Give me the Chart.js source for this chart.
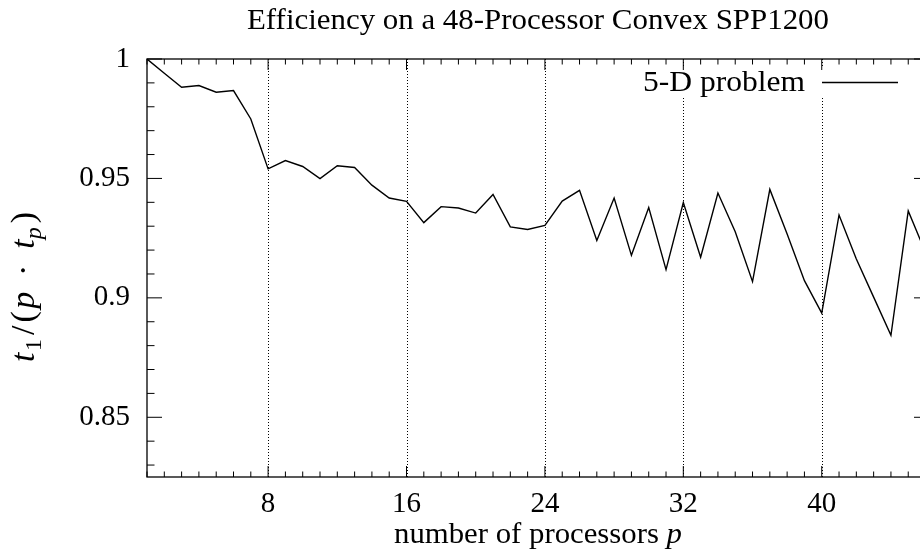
<!DOCTYPE html>
<html>
<head>
<meta charset="utf-8">
<script src="https://cdn.jsdelivr.net/npm/chart.js@4.4.1/dist/chart.umd.min.js"></script>
<style>
html,body{margin:0;padding:0;background:#fff;overflow:hidden}
#wrap{position:relative;width:935px;height:550px}
</style>
</head>
<body>
<div id="wrap"><canvas id="chart"></canvas></div>
<script>
// data
const processors = [1,2,3,4,5,6,7,8,9,10,11,12,13,14,15,16,17,18,19,20,21,22,23,24,
  25,26,27,28,29,30,31,32,33,34,35,36,37,38,39,40,41,42,43,44,45,46]
const efficiency = [1.0,0.994,0.9882,0.9889,0.9861,0.9868,0.9749,0.954,0.9575,0.955,
  0.9499,0.9553,0.9546,0.9472,0.9418,0.9404,0.9315,0.9382,0.9376,0.9355,0.9433,0.9297,
  0.9286,0.9303,0.9405,0.945,0.924,0.9418,0.9178,0.9378,0.9118,0.9399,0.917,0.9439,
  0.9277,0.9068,0.9454,0.9267,0.9072,0.8936,0.9347,0.9163,0.9003,0.8843,0.9364,0.919]
const xTicks = [8,16,24,32,40]
const yTicks = [0.85,0.9,0.95,1]
const yMinor = [0.83,0.84,0.86,0.87,0.88,0.89,0.91,0.92,0.93,0.94,0.96,0.97,0.98,0.99]
const seriesName = "5-D problem"
const titleText = "Efficiency on a 48-Processor Convex SPP1200"

const FONT = "'Liberation Serif', 'Times New Roman', serif"

// rich text (italic / subscript pieces) fitted to a given width:
// either stretched a little (Computer Modern runs wider than Times)
// or, with spread, by opening up the gaps between pieces (math spacing)
function drawRuns(ctx, runs, cx, baseline, size, width, spread){
  const sub = Math.round(size * 0.7)
  let w = 0, weights = 0
  runs.forEach(r=>{
    ctx.font = (r.it ? "italic " : "") + (r.sub ? sub : size) + "px " + FONT
    r.w = ctx.measureText(r.t).width
    w += r.w
    weights += r.gap || 0
  })
  const unit = spread && weights ? (width - w) / weights : 0
  ctx.save()
  ctx.translate(cx, baseline)
  if (!spread) ctx.scale(width / w, 1)
  let x = spread ? -width/2 : -w/2
  ctx.textAlign = "left"
  ctx.textBaseline = "alphabetic"
  runs.forEach(r=>{
    ctx.font = (r.it ? "italic " : "") + (r.sub ? sub : size) + "px " + FONT
    ctx.fillText(r.t, x, r.sub ? size * 0.22 : 0)
    x += r.w + (r.gap || 0) * unit
  })
  ctx.restore()
}

const gnuStyle = {
  id: "gnuStyle",
  beforeDatasetsDraw(chart){
    const {ctx, chartArea:a, scales:{x, y}} = chart
    ctx.save()
    // dotted grid
    ctx.strokeStyle = "#000"
    ctx.lineWidth = 1
    ctx.setLineDash([1,2])
    xTicks.forEach(v=>{
      const px = Math.round(x.getPixelForValue(v)) + 0.5
      ctx.beginPath()
      ctx.moveTo(px, a.bottom)
      ctx.lineTo(px, a.top)
      ctx.stroke()
    })
    ctx.setLineDash([])
    // key box
    ctx.fillStyle = "#fff"
    ctx.fillRect(632, 66, 280, 31)
    ctx.fillStyle = "#000"
    const keyRight = 805
    drawRuns(ctx, [{t:seriesName}], keyRight - 81, 91, 30, 162)
    ctx.lineWidth = 1.4
    ctx.beginPath()
    ctx.moveTo(822, 82.5)
    ctx.lineTo(898, 82.5)
    ctx.stroke()
    ctx.restore()
  },
  afterDatasetsDraw(chart){
    const {ctx, chartArea:a, scales:{x, y}} = chart
    ctx.save()
    ctx.strokeStyle = "#000"
    ctx.lineWidth = 1.3
    ctx.strokeRect(a.left, a.top, a.right - a.left, a.bottom - a.top)
    ctx.lineWidth = 1
    // x ticks, bottom and top, pointing inward
    processors.forEach(v=>{
      const px = x.getPixelForValue(v)
      const len = xTicks.includes(v) ? 11 : 5.5
      ctx.beginPath()
      ctx.moveTo(px, a.bottom); ctx.lineTo(px, a.bottom - len)
      ctx.moveTo(px, a.top); ctx.lineTo(px, a.top + len)
      ctx.stroke()
    })
    // y ticks, left and right
    yTicks.concat(yMinor).forEach(v=>{
      const py = y.getPixelForValue(v)
      const len = yTicks.includes(v) ? 15 : 7.5
      ctx.beginPath()
      ctx.moveTo(a.left, py); ctx.lineTo(a.left + len, py)
      ctx.moveTo(a.right, py); ctx.lineTo(a.right - len, py)
      ctx.stroke()
    })
    ctx.restore()
  },
  afterDraw(chart){
    const {ctx, chartArea:a} = chart
    const mid = (a.left + a.right) / 2
    ctx.save()
    ctx.fillStyle = "#000"
    drawRuns(ctx, [{t:titleText}], mid, 29, 29, 582)
    drawRuns(ctx, [{t:"number of processors "}, {t:"p", it:true}], mid, 543, 29, 288)
    ctx.translate(34, 287)
    ctx.rotate(-Math.PI/2)
    drawRuns(ctx, [
      {t:"t", it:true, gap:0.2}, {t:"1", sub:true, gap:0.5}, {t:"/", gap:0.4}, {t:"(", gap:0.3},
      {t:"p", it:true, gap:2}, {t:"·", gap:2}, {t:"t", it:true, gap:0},
      {t:"p", it:true, sub:true, gap:0.5}, {t:")"}
    ], 0, 0, 34, 150, true)
    ctx.restore()
  }
}

new Chart(document.getElementById("chart"), {
  type: "line",
  data: {
    datasets: [{
      label: seriesName,
      data: processors.map((p,i)=>({x:p, y:efficiency[i]})),
      borderColor: "#000",
      borderWidth: 1.4,
      pointRadius: 0,
      tension: 0,
      fill: false
    }]
  },
  options: {
    responsive: true,
    maintainAspectRatio: false,
    animation: false,
    events: [],
    layout: {padding: {left: 0, top: 59, right: 6, bottom: 0}},
    plugins: {legend: {display: false}, tooltip: {enabled: false}},
    scales: {
      x: {
        type: "linear",
        min: 1,
        max: 46.2,
        afterBuildTicks: s => { s.ticks = xTicks.map(v=>({value:v})) },
        afterFit: s => { s.height = 73 },
        grid: {display: false, drawTicks: false},
        border: {display: false},
        ticks: {color: "#000", font: {family: FONT, size: 29}, padding: 10, maxRotation: 0, autoSkip: false}
      },
      y: {
        min: 0.825,
        max: 1,
        afterBuildTicks: s => { s.ticks = yTicks.map(v=>({value:v})) },
        afterFit: s => { s.width = 147 },
        grid: {display: false, drawTicks: false},
        border: {display: false},
        ticks: {color: "#000", font: {family: FONT, size: 29}, padding: 17,
          callback: v => String(+v.toFixed(2))}
      }
    }
  },
  plugins: [gnuStyle]
})
</script>
</body>
</html>
